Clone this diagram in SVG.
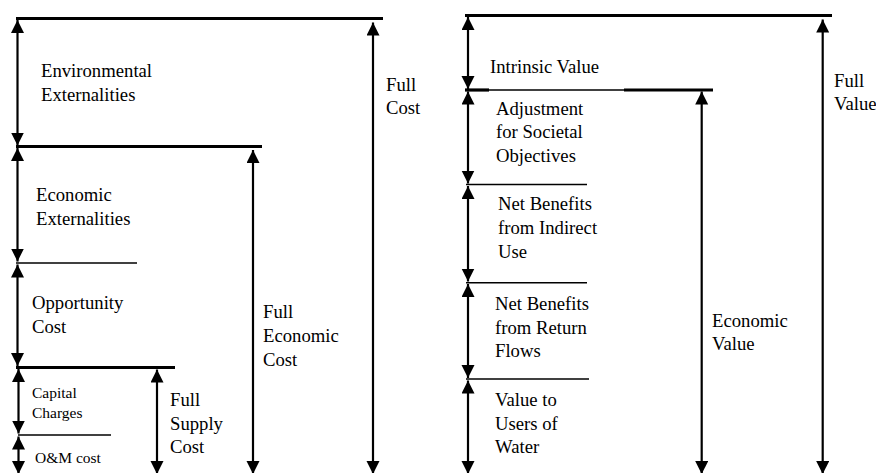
<svg xmlns="http://www.w3.org/2000/svg" width="876" height="473" viewBox="0 0 876 473">
<style>
text{font-family:"Liberation Serif","Times New Roman",serif;font-size:18.7px;fill:#000}
.sm{font-size:15.5px}
.thick{stroke:#000;stroke-width:3.2;fill:none}
.thin{stroke:#000;stroke-width:1.6;fill:none}
.arr{stroke:#000;stroke-width:2.2;fill:none;marker-start:url(#ah);marker-end:url(#ah)}
</style>
<defs>
<marker id="ah" markerUnits="userSpaceOnUse" markerWidth="14" markerHeight="14" refX="13" refY="6.5" orient="auto-start-reverse">
<path d="M0,0 L13,6.5 L0,13 z" fill="#000"/>
</marker>
</defs>
<rect width="876" height="473" fill="#fff"/>
<g id="levels">
<line class="thick" x1="16" y1="18.5" x2="383" y2="18.5"/>
<line class="thick" x1="16" y1="146.5" x2="262" y2="146.5"/>
<line class="thin" x1="16" y1="263" x2="137" y2="263"/>
<line class="thick" x1="16" y1="367.5" x2="175" y2="367.5"/>
<line class="thin" x1="18" y1="435" x2="111" y2="435"/>
<line class="thick" x1="465" y1="15.5" x2="832" y2="15.5"/>
<line class="thick" x1="465" y1="90" x2="489" y2="90"/>
<line class="thin" x1="489" y1="90" x2="624" y2="90"/>
<line class="thick" x1="624" y1="90" x2="713" y2="90"/>
<line class="thin" x1="466" y1="184.5" x2="587" y2="184.5"/>
<line class="thin" x1="466" y1="282.7" x2="587" y2="282.7"/>
<line class="thin" x1="466" y1="379" x2="589" y2="379"/>
</g>
<g id="connectors">
<line class="arr" x1="17.5" y1="20" x2="17.5" y2="145.5"/>
<line class="arr" x1="17.5" y1="148" x2="17.5" y2="261.5"/>
<line class="arr" x1="17.5" y1="264.5" x2="17.5" y2="366"/>
<line class="arr" x1="18.5" y1="369" x2="18.5" y2="433.5"/>
<line class="arr" x1="18.5" y1="436.5" x2="18.5" y2="474"/>
<line class="arr" x1="157" y1="369.5" x2="157" y2="474"/>
<line class="arr" x1="253" y1="150" x2="253" y2="474"/>
<line class="arr" x1="373" y1="22.5" x2="373" y2="474"/>
<line class="arr" x1="468" y1="17" x2="468" y2="89"/>
<line class="arr" x1="468" y1="91.5" x2="468" y2="183.5"/>
<line class="arr" x1="468" y1="186" x2="468" y2="281.5"/>
<line class="arr" x1="468" y1="284" x2="468" y2="378"/>
<line class="arr" x1="468" y1="380.5" x2="468" y2="474"/>
<line class="arr" x1="701.7" y1="91.5" x2="701.7" y2="474"/>
<line class="arr" x1="822.7" y1="19.5" x2="822.7" y2="474"/>
</g>
<g id="env"><text x="41" y="77">Environmental</text><text x="41" y="100.5">Externalities</text></g>
<g id="fullcost"><text x="386" y="90.5">Full</text><text x="386" y="114">Cost</text></g>
<g id="econext"><text x="36" y="201">Economic</text><text x="36" y="225">Externalities</text></g>
<g id="opp"><text x="32" y="309">Opportunity</text><text x="32" y="333">Cost</text></g>
<g id="fullecon"><text x="263" y="318">Full</text><text x="263" y="342">Economic</text><text x="263" y="366">Cost</text></g>
<g id="capital"><text class="sm" x="32" y="398">Capital</text><text class="sm" x="32" y="418">Charges</text></g>
<g id="om"><text class="sm" x="35" y="463">O&amp;M cost</text></g>
<g id="fullsupply"><text x="170" y="406">Full</text><text x="170" y="430">Supply</text><text x="170" y="453">Cost</text></g>
<g id="intrinsic"><text x="490" y="72.5">Intrinsic Value</text></g>
<g id="fullvalue"><text x="834" y="87">Full</text><text x="834" y="110">Value</text></g>
<g id="adjust"><text x="496" y="114.5">Adjustment</text><text x="496" y="138">for Societal</text><text x="496" y="161.5">Objectives</text></g>
<g id="indirect"><text x="498" y="210">Net Benefits</text><text x="498" y="233.5">from Indirect</text><text x="498" y="257.5">Use</text></g>
<g id="return"><text x="495" y="310">Net Benefits</text><text x="495" y="333.5">from Return</text><text x="495" y="357">Flows</text></g>
<g id="econvalue"><text x="712" y="326.5">Economic</text><text x="712" y="350">Value</text></g>
<g id="users"><text x="495" y="406">Value to</text><text x="495" y="429.5">Users of</text><text x="495" y="453">Water</text></g>
</svg>
